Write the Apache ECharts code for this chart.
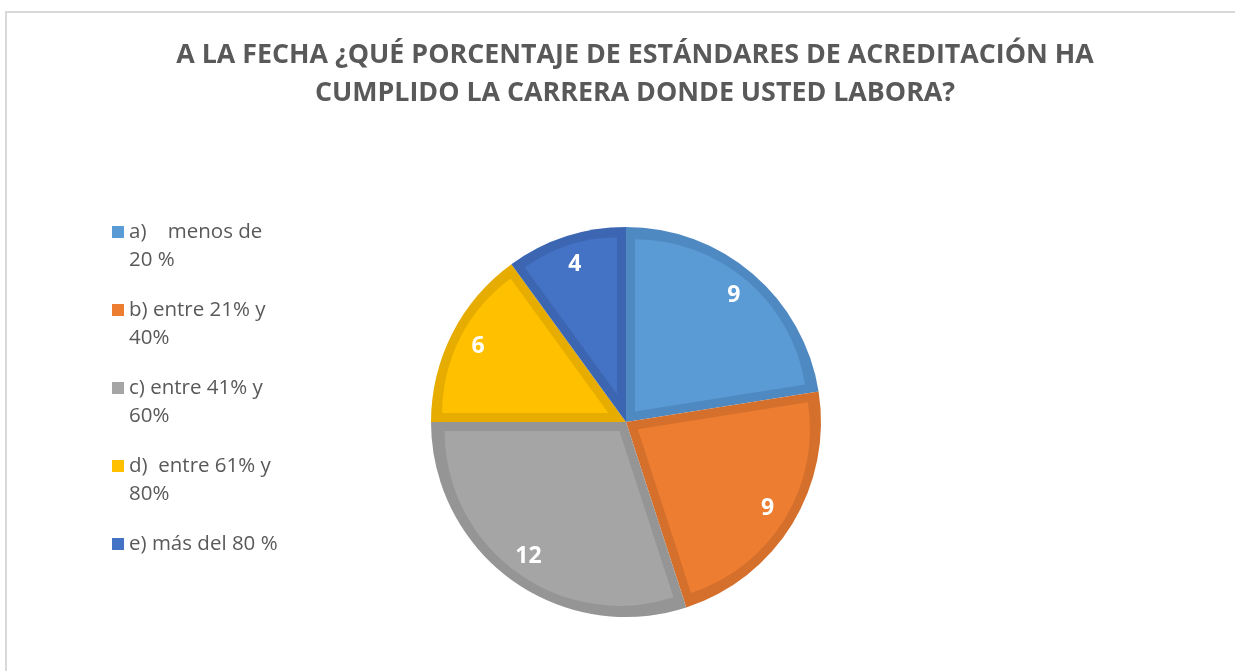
<!DOCTYPE html>
<html>
<head>
<meta charset="utf-8">
<script src="https://cdn.jsdelivr.net/npm/echarts@6/dist/echarts.min.js"></script>
<style>
  html, body { margin: 0; padding: 0; background: #fff; }
  #chart { width: 1235px; height: 671px; }
</style>
</head>
<body>
<div id="chart"></div>
<script>
// datos
var categorias = ['a)    menos de\n20 %', 'b) entre 21% y\n40%', 'c) entre 41% y\n60%', 'd)  entre 61% y\n80%', 'e) más del 80 %'];
var valores = [9, 9, 12, 6, 4];
var colores = ['#5B9BD5', '#ED7D31', '#A5A5A5', '#FFC000', '#4472C4'];
var bordes = ['#4F89C1', '#D5702C', '#959595', '#E6AD00', '#3C66B1'];
var titulo = 'A LA FECHA ¿QUÉ PORCENTAJE DE ESTÁNDARES DE ACREDITACIÓN HA\nCUMPLIDO LA CARRERA DONDE USTED LABORA?';

var fuente = '"Open Sans", "Noto Sans", sans-serif';
var centro = [626, 422];
var radio = 195;   // radio exterior
var borde = 9;     // ancho del borde interior de cada sector

var total = valores.reduce(function (a, b) { return a + b; }, 0);

var serieBase = function (extra) {
    var s = {
        type: 'pie',
        center: centro,
        startAngle: 90,
        clockwise: true,
        silent: true,
        label: { show: false },
        labelLine: { show: false }
    };
    for (var k in extra) s[k] = extra[k];
    return s;
};

var series = [];
// borde oscuro: pie completo
series.push(serieBase({
    radius: radio,
    itemStyle: { borderWidth: 0 },
    data: categorias.map(function (c, i) {
        return { name: c, value: valores[i], itemStyle: { color: bordes[i] } };
    })
}));
// relleno: cada sector desplazado hacia fuera para dejar un borde de ancho constante
categorias.forEach(function (c, i) {
    var medio = Math.PI * valores[i] / total;   // medio angulo del sector
    var desp = borde / Math.sin(medio);
    series.push(serieBase({
        radius: radio - borde - desp,
        selectedMode: 'single',
        selectedOffset: desp,
        itemStyle: { borderWidth: 0 },
        select: { itemStyle: { borderWidth: 0 } },
        data: categorias.map(function (c2, j) {
            return {
                name: c2,
                value: valores[j],
                selected: j === i,
                itemStyle: { color: j === i ? colores[j] : 'rgba(0,0,0,0)' }
            };
        })
    }));
});
// serie transparente solo para las etiquetas (encima de todo)
series.push(serieBase({
    z: 10,
    radius: [132, 194],
    itemStyle: { color: 'rgba(0,0,0,0)', borderWidth: 0 },
    label: {
        show: true,
        position: 'inside',
        formatter: '{c}',
        color: '#fff',
        fontFamily: fuente,
        fontWeight: 'bold',
        fontSize: 23
    },
    data: categorias.map(function (c, i) {
        return { name: c, value: valores[i] };
    })
}));

var chart = echarts.init(document.getElementById('chart'));
chart.setOption({
    animation: false,
    graphic: [{
        type: 'rect',
        shape: { x: 6, y: 12, width: 1260, height: 700 },
        style: { fill: 'none', stroke: '#D9D9D9', lineWidth: 2 },
        silent: true
    }],
    title: {
        text: titulo,
        left: 630,
        top: 31,
        textAlign: 'center',
        textStyle: {
            fontFamily: fuente,
            fontWeight: 'bold',
            fontSize: 26.8,
            color: '#595959',
            lineHeight: 38
        }
    },
    legend: {
        orient: 'vertical',
        left: 112,
        top: 190,
        padding: 0,
        itemWidth: 12,
        itemHeight: 12,
        itemGap: -6,
        itemTextGap: 6,
        icon: 'rect',
        selectedMode: false,
        formatter: function (name) {
            // linea vacia arriba para que el cuadro quede junto a la primera linea
            return '\n' + name + (name.indexOf('\n') < 0 ? '\n' : '');
        },
        textStyle: {
            fontFamily: fuente,
            fontSize: 20.5,
            color: '#595959',
            lineHeight: 28
        },
        data: categorias.map(function (c, i) {
            return { name: c, itemStyle: { color: colores[i], borderWidth: 0 } };
        })
    },
    series: series
});
</script>
</body>
</html>
